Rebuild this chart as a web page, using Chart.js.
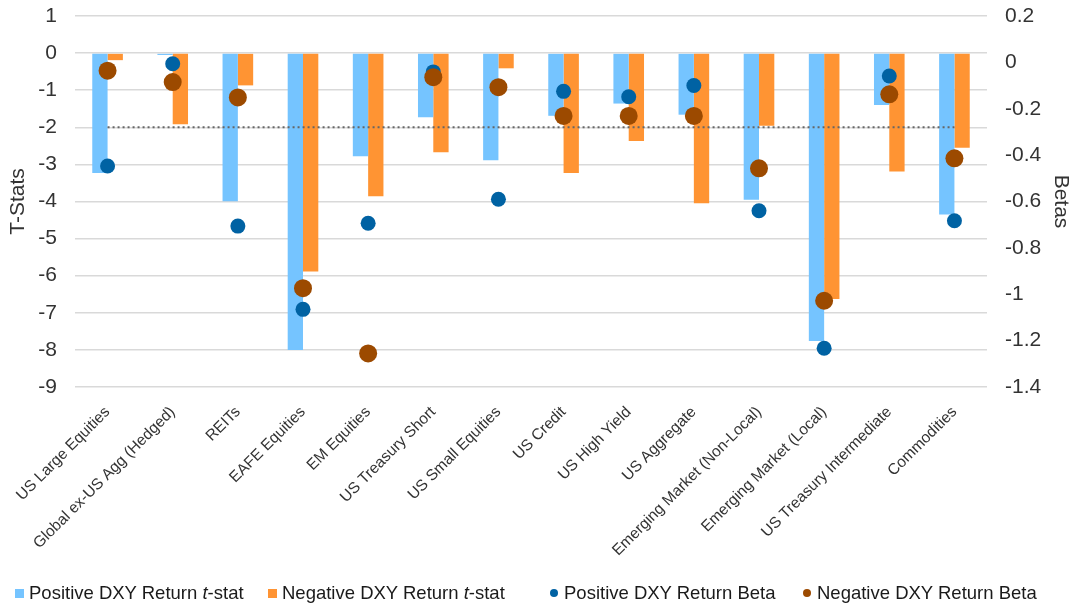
<!DOCTYPE html>
<html>
<head>
<meta charset="utf-8">
<script src="https://cdn.jsdelivr.net/npm/chart.js@4"></script>
<style>
  body { margin: 0; background: #fff; }
  #wrap { position: relative; width: 1075px; height: 609px; }
  #legend {
    position: absolute; left: 0; top: 581px; width: 1075px; height: 26px;
    font-family: "Liberation Sans", Arial, sans-serif; font-size: 18.5px; color: #1a1a1a;
  }
  #legend span.item { position: absolute; top: 1px; white-space: nowrap; line-height: 22px; }
  #legend i.sq { display: inline-block; width: 9px; height: 9px; margin-right: 5px; vertical-align: 1px; }
  #legend i.dot { display: inline-block; width: 8px; height: 8px; border-radius: 50%; margin-right: 6px; vertical-align: 2px; }
</style>
</head>
<body>
<div id="wrap">
  <canvas id="chart" width="1075" height="609"></canvas>
  <div id="legend">
    <span class="item" style="left:15px"><i class="sq" style="background:#75C4FF"></i>Positive DXY Return <em>t</em>-stat</span>
    <span class="item" style="left:268px"><i class="sq" style="background:#FF9433"></i>Negative DXY Return <em>t</em>-stat</span>
    <span class="item" style="left:550px"><i class="dot" style="background:#0062A3"></i>Positive DXY Return Beta</span>
    <span class="item" style="left:803px"><i class="dot" style="background:#9C4A00"></i>Negative DXY Return Beta</span>
  </div>
</div>
<script>
const categories = [
  "US Large Equities", "Global ex-US Agg (Hedged)", "REITs", "EAFE Equities",
  "EM Equities", "US Treasury Short", "US Small Equities", "US Credit",
  "US High Yield", "US Aggregate", "Emerging Market (Non-Local)",
  "Emerging Market (Local)", "US Treasury Intermediate", "Commodities"
];

// t-stats (left axis)
const posTStat = [-3.23, -0.05, -3.99, -8.0, -2.78, -1.73, -2.89, -1.69, -1.36, -1.66, -3.95, -7.76, -1.40, -4.35];
const negTStat = [-0.19, -1.92, -0.87, -5.89, -3.86, -2.67, -0.41, -3.23, -2.37, -4.05, -1.96, -6.63, -3.19, -2.55];

// betas (right axis)
const posBeta = [-0.447, -0.006, -0.706, -1.065, -0.694, -0.041, -0.590, -0.125, -0.148, -0.100, -0.640, -1.233, -0.059, -0.683];
const negBeta = [-0.036, -0.085, -0.151, -0.974, -1.255, -0.064, -0.107, -0.231, -0.231, -0.231, -0.457, -1.028, -0.138, -0.414];

// significance threshold
const threshold = categories.map(() => -2);

const fontFamily = "'Liberation Sans', Arial, sans-serif";
const tickFont = { family: fontFamily, size: 21 };
const tickColor = "#333333";

// fixed sizes so the plot area lands where the original one is
function fitVertical(width) {
  return s => {
    s.width = width;
    s.paddingTop = 0;
    s.paddingBottom = 0;
  };
}

new Chart(document.getElementById("chart"), {
  data: {
    labels: categories,
    datasets: [
      {
        type: "scatter", label: "Negative DXY Return Beta", data: negBeta, yAxisID: "y1",
        backgroundColor: "#9C4A00", borderWidth: 0, pointRadius: 9, order: 0
      },
      {
        type: "scatter", label: "Positive DXY Return Beta", data: posBeta, yAxisID: "y1",
        backgroundColor: "#0062A3", borderWidth: 0, pointRadius: 7.5, order: 1
      },
      {
        type: "line", label: "threshold", data: threshold, yAxisID: "y",
        borderColor: "#666666", borderWidth: 2, borderDash: [2, 3], pointRadius: 0, order: 2
      },
      {
        type: "bar", label: "Positive DXY Return t-stat", data: posTStat, yAxisID: "y",
        backgroundColor: "#75C4FF", categoryPercentage: 0.47, barPercentage: 1.0, order: 3
      },
      {
        type: "bar", label: "Negative DXY Return t-stat", data: negTStat, yAxisID: "y",
        backgroundColor: "#FF9433", categoryPercentage: 0.47, barPercentage: 1.0, order: 3
      }
    ]
  },
  options: {
    responsive: false,
    animation: false,
    layout: { padding: { top: 16, bottom: 0, left: 0, right: 0 } },
    plugins: { legend: { display: false }, tooltip: { enabled: false } },
    scales: {
      x: {
        type: "category",
        grid: { display: false },
        border: { display: false },
        ticks: {
          color: tickColor, maxRotation: 45, minRotation: 45, autoSkip: false, padding: 8,
          font: { family: fontFamily, size: 15.5 }
        },
        afterFit: s => { s.height = 222; }
      },
      y: {
        position: "left", min: -9, max: 1,
        ticks: { stepSize: 1, color: tickColor, font: tickFont, padding: 18 },
        grid: { color: "#D9D9D9", lineWidth: 1.5, drawTicks: false },
        border: { display: false },
        title: { display: true, text: "T-Stats", color: tickColor, font: tickFont, padding: { top: 6, bottom: 0 } },
        afterFit: fitVertical(75)
      },
      y1: {
        position: "right", min: -1.4, max: 0.2,
        ticks: { stepSize: 0.2, color: tickColor, font: tickFont, padding: 18,
          callback: v => Math.round(v * 10) / 10 },
        grid: { display: false, drawTicks: false },
        border: { display: false },
        title: { display: true, text: "Betas", color: tickColor, font: tickFont, padding: { top: 2, bottom: 0 } },
        afterFit: fitVertical(88)
      }
    }
  }
});
</script>
</body>
</html>
